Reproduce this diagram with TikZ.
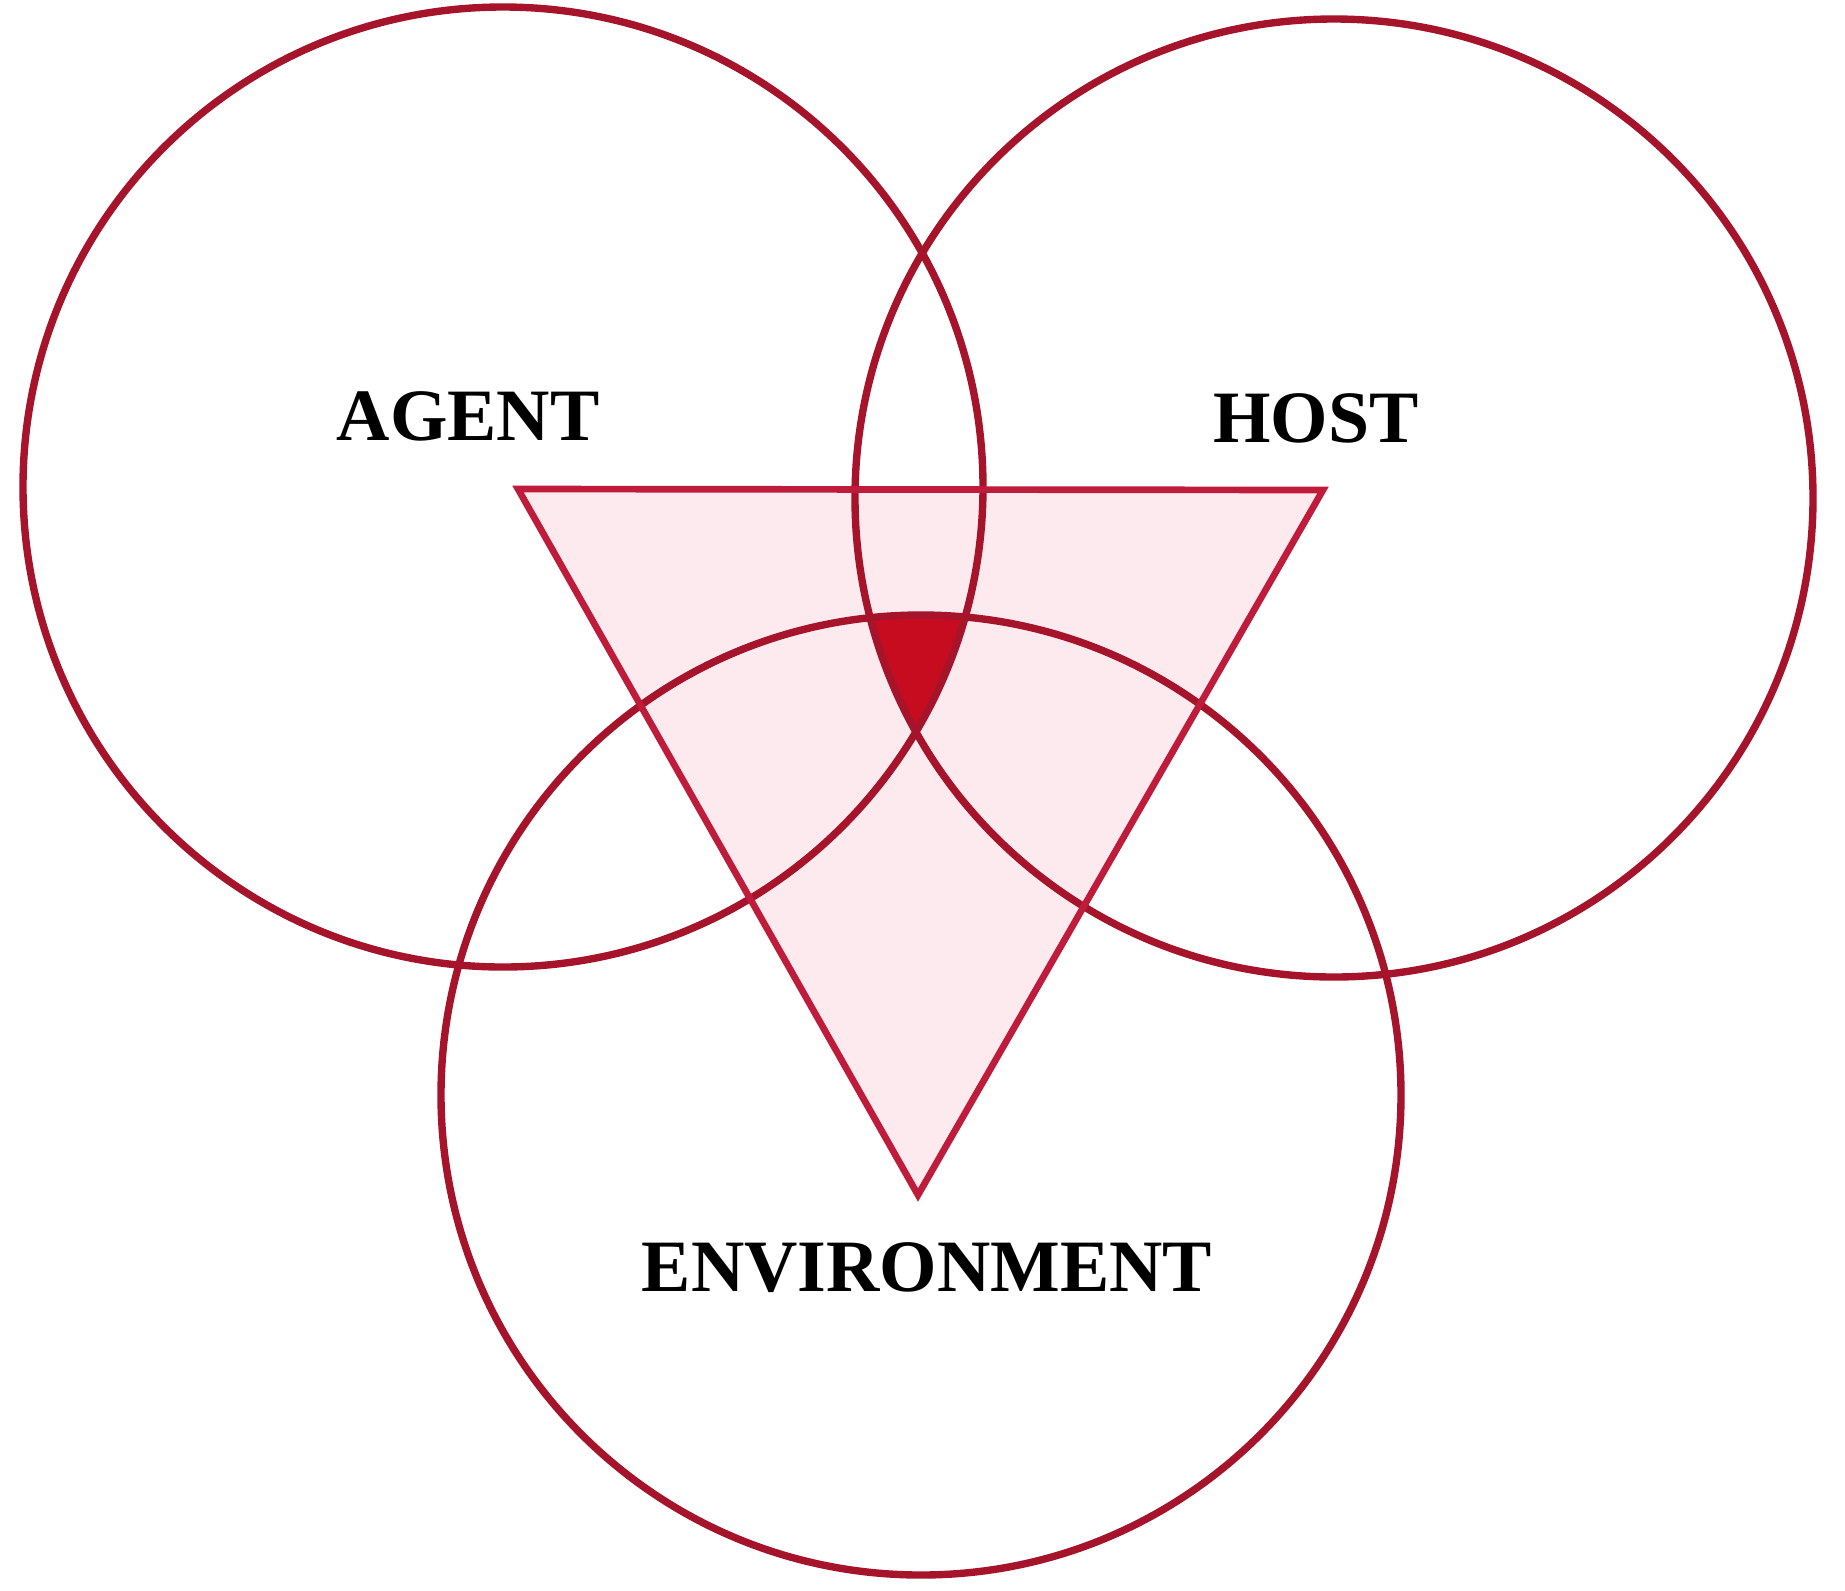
\documentclass[tikz,border=0pt]{standalone}
\usepackage{fontspec}
\setmainfont{Liberation Serif}
\usepackage{xcolor}
\usepackage{tikz}
\definecolor{ringred}{RGB}{165, 20, 42}
\definecolor{trired}{RGB}{190, 28, 58}
\definecolor{tripink}{RGB}{252, 234, 239}
\definecolor{corered}{RGB}{200, 12, 32}

\begin{document}
\begin{tikzpicture}[
    x=0.01cm, y=0.01cm,
    ring/.style={draw=ringred, line width=2.1pt},
    label/.style={font=\fontsize{21}{24}\selectfont\bfseries, text=black, inner sep=0pt}
]
\useasboundingbox (0,0) rectangle (1845,-1590);

% Centres
\coordinate (agentc) at (503,-487);
\coordinate (hostc) at (1334,-498);
\coordinate (envc) at (921,-1095);

% Triangle
\coordinate (tl) at (518,-489);
\coordinate (tr) at (1323,-490);
\coordinate (tb) at (918,-1195);
\fill[tripink] (tl) -- (tr) -- (tb) -- cycle;

% Common part of the three circles
\begin{scope}
    \clip (agentc) circle (480);
    \clip (hostc) circle (479);
    \fill[corered] (envc) circle (480);
\end{scope}

% Circles
\draw[ring] (agentc) circle (480);
\draw[ring] (hostc) circle (479);
\draw[ring] (envc) circle (480);

\draw[trired, line width=1.9pt, line join=miter] (tl) -- (tr) -- (tb) -- cycle;

% Labels
\node[label] (agent) at (468,-416) {AGENT};
\node[label] (host) at (1316,-418) {HOST};
\node[label] (env) at (927,-1268) {ENVIRONMENT};
\end{tikzpicture}
\end{document}
